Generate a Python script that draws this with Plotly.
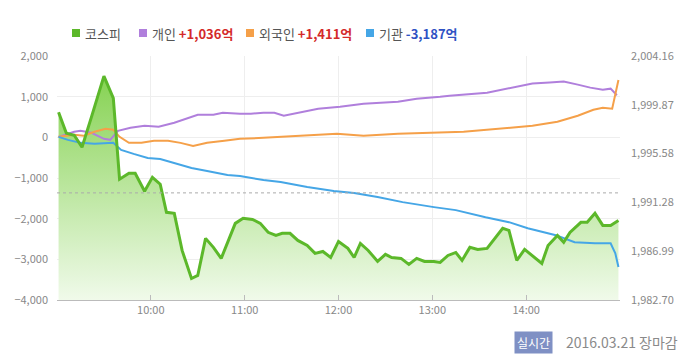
import plotly.graph_objects as go

DATE = "2016-03-21 "

# KOSPI index (right axis)
kospi_time = ["09:01","09:06","09:11","09:16","09:22","09:30","09:36","09:40","09:46","09:50",
              "09:56","10:01","10:06","10:10","10:15","10:20","10:26","10:30","10:35","10:40",
              "10:45","10:54","10:59","11:05","11:10","11:15","11:20","11:24","11:29","11:34",
              "11:40","11:45","11:50","11:55","12:00","12:06","12:10","12:14","12:19","12:25",
              "12:30","12:34","12:40","12:45","12:50","12:55","13:01","13:05","13:10","13:15",
              "13:19","13:24","13:29","13:35","13:45","13:49","13:54","13:59","14:10","14:14",
              "14:20","14:24","14:28","14:35","14:39","14:44","14:49","14:54","14:59"]
kospi_val = [1999.22,1997.37,1997.19,1996.14,1998.78,2002.39,2000.45,1993.32,1993.84,1993.84,
             1992.26,1993.49,1992.88,1990.41,1990.32,1987.06,1984.59,1984.86,1988.12,1987.33,
             1986.36,1989.44,1989.88,1989.79,1989.44,1988.65,1988.38,1988.56,1988.56,1987.94,
             1987.50,1986.80,1986.97,1986.44,1987.85,1987.24,1986.44,1987.68,1987.06,1986.09,
             1986.71,1986.44,1986.36,1985.83,1986.36,1986.09,1986.09,1986.00,1986.62,1986.88,
             1986.18,1987.33,1987.15,1987.24,1989.00,1988.82,1986.18,1987.15,1985.92,1987.50,
             1988.38,1987.77,1988.65,1989.53,1989.53,1990.32,1989.26,1989.26,1989.70]

# 개인 (individuals, 억 won, left axis)
indiv_time = ["09:01","09:11","09:15","09:22","09:30","09:34","09:39","09:47","09:56","10:05",
              "10:15","10:26","10:30","10:40","10:46","10:57","11:04","11:12","11:19","11:25",
              "11:34","11:47","12:01","12:16","12:38","12:50","13:05","13:11","13:35","13:48",
              "14:04","14:15","14:24","14:33","14:41","14:49","14:54","14:58"]
indiv_val = [12,136,160,111,-37,-62,160,235,284,259,
             358,506,556,556,605,580,580,605,605,531,
             605,704,753,827,877,951,1000,1025,1099,1197,
             1321,1346,1370,1296,1222,1173,1197,1036]

# 외국인 (foreigners)
foreign_time = ["09:01","09:11","09:17","09:24","09:31","09:36","09:40","09:46","09:54","10:02",
                "10:11","10:19","10:27","10:36","10:47","10:57","11:12","11:34","11:59","12:16",
                "12:38","12:59","13:20","13:50","14:04","14:20","14:33","14:43","14:49","14:55",
                "14:57","14:59"]
foreign_val = [12,62,37,136,210,185,12,-136,-136,-86,
               -86,-136,-210,-136,-86,-37,-12,37,86,37,
               86,111,136,235,284,383,531,679,728,704,
               1099,1411]

# 기관 (institutions)
inst_time = ["09:01","09:07","09:15","09:24","09:36","09:41","09:49","09:58","10:06","10:15",
             "10:26","10:36","10:49","10:57","11:12","11:23","11:40","11:57","12:10","12:25",
             "12:41","13:01","13:15","13:34","13:49","14:01","14:19","14:31","14:44","14:54",
             "14:57","14:59"]
inst_val = [12,-62,-136,-160,-136,-309,-407,-506,-531,-630,
            -753,-827,-926,-951,-1049,-1099,-1222,-1321,-1370,-1469,
            -1593,-1716,-1790,-1963,-2086,-2234,-2407,-2580,-2605,-2605,
            -2852,-3187]

prev_close = 1992.12

left_ticks = [-4000, -3000, -2000, -1000, 0, 1000, 2000]
right_ticks = [1982.70, 1986.99, 1991.28, 1995.58, 1999.87, 2004.16]
right_labels = ["1,982.70", "1,986.99", "1,991.28", "1,995.58", "1,999.87", "2,004.16"]
x_ticks = ["09:00", "10:00", "11:00", "12:00", "13:00", "14:00"]
x_labels = ["", "10:00", "11:00", "12:00", "13:00", "14:00"]

GREEN = "#5cb82a"
PURPLE = "#b07fdc"
ORANGE = "#f5a049"
BLUE = "#45a6e6"

kospi_x = [DATE + t for t in kospi_time]
fig = go.Figure()

# KOSPI fill on the primary (right-side) axis, beneath everything
fig.add_trace(go.Scatter(
    x=kospi_x, y=kospi_val, yaxis="y", mode="lines",
    line=dict(color=GREEN, width=0), fill="tozeroy",
    fillgradient=dict(type="vertical",
                      colorscale=[[0, "rgba(240,250,234,1)"], [1, "rgba(128,208,74,1)"]],
                      start=1982.70, stop=2003.5),
    hoverinfo="skip", showlegend=False))

for t, v, c in [(indiv_time, indiv_val, PURPLE),
                (foreign_time, foreign_val, ORANGE),
                (inst_time, inst_val, BLUE)]:
    fig.add_trace(go.Scatter(x=[DATE + s for s in t], y=v, yaxis="y2", mode="lines",
                             line=dict(color=c, width=2), hoverinfo="skip", showlegend=False))

# KOSPI line on top
fig.add_trace(go.Scatter(x=kospi_x, y=kospi_val, yaxis="y3", mode="lines",
                         line=dict(color=GREEN, width=3), hoverinfo="skip", showlegend=False))

fig.add_shape(type="line", xref="paper", x0=0, x1=1, yref="y", y0=prev_close, y1=prev_close,
              line=dict(color="#aaaaaa", width=1, dash="dot"))

L, R, T, B = 57, 80, 56, 57
W, H = 700, 357
def px(x):
    return (x - L) / (W - L - R)
def py(y):
    return (H - B - y) / (H - T - B)

fig.update_layout(
    width=W, height=H, margin=dict(l=L, r=R, t=T, b=B),
    paper_bgcolor="white", plot_bgcolor="white",
    font=dict(family="Noto Sans CJK KR, Noto Sans, sans-serif", color="#888888", size=11),
    xaxis=dict(type="date", range=[DATE + "09:00", DATE + "15:00"],
               tickvals=[DATE + t for t in x_ticks], ticktext=x_labels,
               showgrid=True, gridcolor="#eeeeee", gridwidth=1,
               showline=True, linecolor="#bbbbbb", linewidth=1,
               ticks="inside", ticklen=5, tickcolor="#bbbbbb",
               tickfont=dict(size=11, color="#888888"), zeroline=False),
    yaxis=dict(range=[1982.70, 2004.16], side="right",
               tickvals=right_ticks, ticktext=right_labels, showgrid=False,
               zeroline=False, showline=False, ticks="", ticklabelstandoff=10,
               tickfont=dict(size=11, color="#888888")),
    yaxis2=dict(range=[-4000, 2000], overlaying="y", side="left",
                tickvals=left_ticks, tickformat=",d",
                showgrid=True, gridcolor="#eeeeee", gridwidth=1, zeroline=False,
                showline=False, ticks="", ticklabelstandoff=8,
                tickfont=dict(size=11, color="#888888")),
    yaxis3=dict(range=[1982.70, 2004.16], overlaying="y", side="right",
                showticklabels=False, showgrid=False, zeroline=False, showline=False,
                ticks=""),
)

# Legend row
legend_items = [
    (72, GREEN, "코스피", None, None),
    (139, PURPLE, "개인", "+1,036억", "#d42a2a"),
    (246, ORANGE, "외국인", "+1,411억", "#d42a2a"),
    (366, BLUE, "기관", "-3,187억", "#2f52c4"),
]
for x0, col, name, num, ncol in legend_items:
    fig.add_shape(type="rect", xref="paper", yref="paper",
                  x0=px(x0), x1=px(x0 + 8), y0=py(37), y1=py(29),
                  fillcolor=col, line=dict(width=0))
    label = name
    if num:
        label += " <b><span style='color:%s'>%s</span></b>" % (ncol, num)
    fig.add_annotation(xref="paper", yref="paper", x=px(x0 + 11), y=py(33),
                       xanchor="left", yanchor="middle", showarrow=False,
                       text=label, font=dict(size=13, color="#555555"))

fig.add_annotation(xref="paper", yref="paper", x=px(514), y=py(342), xanchor="left",
                   yanchor="middle", showarrow=False, text="실시간",
                   font=dict(size=12, color="white"), bgcolor="#7f90c4", borderpad=2)
fig.add_annotation(xref="paper", yref="paper", x=px(564), y=py(342), xanchor="left",
                   yanchor="middle", showarrow=False, text="2016.03.21 장마감",
                   font=dict(size=14, color="#8a8a8a"))

fig.write_html("out.html")
